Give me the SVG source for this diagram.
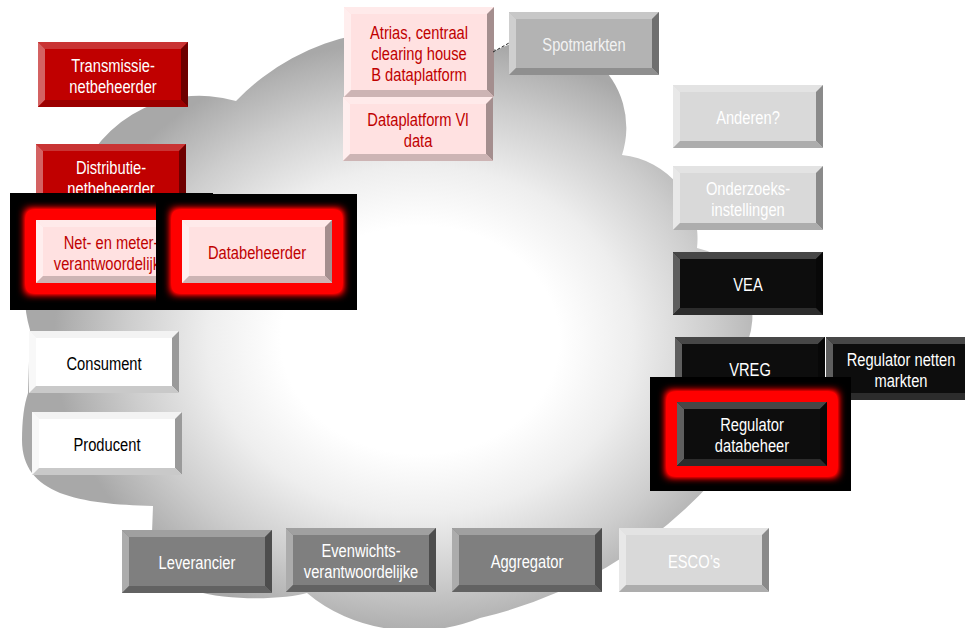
<svg xmlns="http://www.w3.org/2000/svg" width="965" height="628" viewBox="0 0 965 628">
<defs>
<radialGradient id="cg" gradientUnits="userSpaceOnUse" cx="420" cy="340" r="300" gradientTransform="translate(420 340) scale(1.22 1) translate(-420 -340)">
<stop offset="0" stop-color="#FFFFFF"/>
<stop offset="0.38" stop-color="#FFFFFF"/>
<stop offset="0.58" stop-color="#EEEEEE"/>
<stop offset="0.8" stop-color="#CDCDCD"/>
<stop offset="0.95" stop-color="#B2B2B2"/>
<stop offset="1" stop-color="#A8A8A8"/>
</radialGradient>
<filter id="glow" x="-30%" y="-50%" width="160%" height="200%">
<feGaussianBlur stdDeviation="4.5"/>
<feComponentTransfer><feFuncA type="linear" slope="2.2"/></feComponentTransfer>
</filter>
</defs>
<style>
text{font-family:"Liberation Sans",Arial,sans-serif;font-size:17.5px;text-anchor:middle}
.red .f{fill:#C00000}.red .t{fill:#C93434}.red .l{fill:#D46262}.red .r{fill:#6E0000}.red .b{fill:#9C0000}.red text{fill:#FFFFFF}
.pink .f{fill:#FFE1E1}.pink .t{fill:#FFEAEA}.pink .l{fill:#FFEEEE}.pink .r{fill:#A48E8E}.pink .b{fill:#CDB4B4}.pink text{fill:#C00000}
.lg .f{fill:#B3B3B3}.lg .t{fill:#C7C7C7}.lg .l{fill:#CFCFCF}.lg .r{fill:#6F6F6F}.lg .b{fill:#8F8F8F}.lg text{fill:#F2F2F2}
.xl .f{fill:#D9D9D9}.xl .t{fill:#E3E3E3}.xl .l{fill:#E8E8E8}.xl .r{fill:#8A8A8A}.xl .b{fill:#ADADAD}.xl text{fill:#FFFFFF}
.blk .f{fill:#0D0D0D}.blk .t{fill:#474747}.blk .l{fill:#5E5E5E}.blk .r{fill:#080808}.blk .b{fill:#2C2C2C}.blk text{fill:#FFFFFF}
.wht .f{fill:#FFFFFF}.wht .t{fill:#F3F3F3}.wht .l{fill:#F8F8F8}.wht .r{fill:#9A9A9A}.wht .b{fill:#C9C9C9}.wht text{fill:#000000}
.dg .f{fill:#7F7F7F}.dg .t{fill:#A0A0A0}.dg .l{fill:#ACACAC}.dg .r{fill:#4D4D4D}.dg .b{fill:#626262}.dg text{fill:#FFFFFF}
.bb{fill:#000000}
.gl{fill:#FF0000;filter:url(#glow)}
.dash{stroke:#222222;stroke-width:1;stroke-dasharray:3 2;fill:none}
</style>

<g id="cloud">
<path fill="url(#cg)" d="M 30,330 A 120 120 0 0 1 72,200 A 130 130 0 0 1 236,101 A 232 232 0 0 1 497,50 A 88 88 0 0 1 622,155 A 84 84 0 0 1 697,248 A 70 70 0 0 1 725,372 A 110 110 0 0 1 712,482 A 455 455 0 0 1 480,618 A 150 125 0 0 1 307,593 C 280,601 170,606 151,560 L 153,506 C 80,504 22,495 22,440 C 22,420 24,405 28,393 Z"/>
</g>

<g id="transmissie" class="red" transform="translate(38,42)">
<rect class="f" width="150" height="65"/>
<polygon class="t" points="0,0 150,0 143,7 7,7"/><polygon class="l" points="0,0 7,7 7,58 0,65"/><polygon class="r" points="150,0 150,65 143,58 143,7"/><polygon class="b" points="0,65 7,58 143,58 150,65"/>
<text transform="matrix(0.84 0 0 1 75 29.5)">Transmissie-</text>
<text transform="matrix(0.84 0 0 1 75 50.5)">netbeheerder</text>
</g>

<g id="distributie" class="red" transform="translate(36,144)">
<rect class="f" width="150" height="65"/>
<polygon class="t" points="0,0 150,0 143,7 7,7"/><polygon class="l" points="0,0 7,7 7,58 0,65"/><polygon class="r" points="150,0 150,65 143,58 143,7"/><polygon class="b" points="0,65 7,58 143,58 150,65"/>
<text transform="matrix(0.84 0 0 1 75 29.5)">Distributie-</text>
<text transform="matrix(0.84 0 0 1 75 50.5)">netbeheerder</text>
</g>

<g id="netmeter" class="pink">
<rect class="bb" x="10" y="193" width="203" height="117"/>
<rect class="gl" x="26" y="210" width="170" height="83"/>
<g transform="translate(36,220)">
<rect class="f" width="150" height="63"/>
<polygon class="t" points="0,0 150,0 143,7 7,7"/><polygon class="l" points="0,0 7,7 7,56 0,63"/><polygon class="r" points="150,0 150,63 143,56 143,7"/><polygon class="b" points="0,63 7,56 143,56 150,63"/>
<text transform="matrix(0.84 0 0 1 75 28.5)">Net- en meter-</text>
<text transform="matrix(0.84 0 0 1 75 49.5)">verantwoordelijke</text>
</g>
</g>

<g id="databeheerder" class="pink">
<rect class="bb" x="156" y="194" width="201" height="116"/>
<rect class="gl" x="172" y="210" width="170" height="83"/>
<g transform="translate(182,220)">
<rect class="f" width="150" height="63"/>
<polygon class="t" points="0,0 150,0 143,7 7,7"/><polygon class="l" points="0,0 7,7 7,56 0,63"/><polygon class="r" points="150,0 150,63 143,56 143,7"/><polygon class="b" points="0,63 7,56 143,56 150,63"/>
<text transform="matrix(0.84 0 0 1 75 39)">Databeheerder</text>
</g>
</g>

<g id="atrias" class="pink" transform="translate(344,7)">
<rect class="f" width="150" height="90"/>
<polygon class="t" points="0,0 150,0 143,7 7,7"/><polygon class="l" points="0,0 7,7 7,83 0,90"/><polygon class="r" points="150,0 150,90 143,83 143,7"/><polygon class="b" points="0,90 7,83 143,83 150,90"/>
<text transform="matrix(0.84 0 0 1 75 31.5)">Atrias, centraal</text>
<text transform="matrix(0.84 0 0 1 75 52.5)">clearing house</text>
<text transform="matrix(0.84 0 0 1 75 73.5)">B dataplatform</text>
</g>

<g id="dataplatform" class="pink" transform="translate(343,97)">
<rect class="f" width="150" height="64"/>
<polygon class="t" points="0,0 150,0 143,7 7,7"/><polygon class="l" points="0,0 7,7 7,57 0,64"/><polygon class="r" points="150,0 150,64 143,57 143,7"/><polygon class="b" points="0,64 7,57 143,57 150,64"/>
<text transform="matrix(0.84 0 0 1 75 29)">Dataplatform Vl</text>
<text transform="matrix(0.84 0 0 1 75 50)">data</text>
</g>

<g id="spotmarkten" class="lg" transform="translate(509,12)">
<rect class="f" width="150" height="63"/>
<polygon class="t" points="0,0 150,0 143,7 7,7"/><polygon class="l" points="0,0 7,7 7,56 0,63"/><polygon class="r" points="150,0 150,63 143,56 143,7"/><polygon class="b" points="0,63 7,56 143,56 150,63"/>
<text transform="matrix(0.84 0 0 1 75 39)">Spotmarkten</text>
</g>

<g id="connectors">
<line class="dash" x1="493" y1="52" x2="509" y2="43"/>
</g>

<g id="anderen" class="xl" transform="translate(673,85)">
<rect class="f" width="150" height="63"/>
<polygon class="t" points="0,0 150,0 143,7 7,7"/><polygon class="l" points="0,0 7,7 7,56 0,63"/><polygon class="r" points="150,0 150,63 143,56 143,7"/><polygon class="b" points="0,63 7,56 143,56 150,63"/>
<text transform="matrix(0.84 0 0 1 75 39)">Anderen?</text>
</g>

<g id="onderzoek" class="xl" transform="translate(673,166)">
<rect class="f" width="150" height="64"/>
<polygon class="t" points="0,0 150,0 143,7 7,7"/><polygon class="l" points="0,0 7,7 7,57 0,64"/><polygon class="r" points="150,0 150,64 143,57 143,7"/><polygon class="b" points="0,64 7,57 143,57 150,64"/>
<text transform="matrix(0.84 0 0 1 75 29)">Onderzoeks-</text>
<text transform="matrix(0.84 0 0 1 75 50)">instellingen</text>
</g>

<g id="vea" class="blk" transform="translate(673,252)">
<rect class="f" width="150" height="63"/>
<polygon class="t" points="0,0 150,0 143,7 7,7"/><polygon class="l" points="0,0 7,7 7,56 0,63"/><polygon class="r" points="150,0 150,63 143,56 143,7"/><polygon class="b" points="0,63 7,56 143,56 150,63"/>
<text transform="matrix(0.84 0 0 1 75 39)">VEA</text>
</g>

<g id="vreg" class="blk" transform="translate(675,337)">
<rect class="f" width="150" height="63"/>
<polygon class="t" points="0,0 150,0 143,7 7,7"/><polygon class="l" points="0,0 7,7 7,56 0,63"/><polygon class="r" points="150,0 150,63 143,56 143,7"/><polygon class="b" points="0,63 7,56 143,56 150,63"/>
<text transform="matrix(0.84 0 0 1 75 39)">VREG</text>
</g>

<g id="regnetten" class="blk" transform="translate(826,337)">
<rect class="f" width="150" height="63"/>
<polygon class="t" points="0,0 150,0 143,7 7,7"/><polygon class="l" points="0,0 7,7 7,56 0,63"/><polygon class="r" points="150,0 150,63 143,56 143,7"/><polygon class="b" points="0,63 7,56 143,56 150,63"/>
<text transform="matrix(0.84 0 0 1 75 28.5)">Regulator netten</text>
<text transform="matrix(0.84 0 0 1 75 49.5)">markten</text>
</g>

<g id="regdata" class="blk">
<rect class="bb" x="650" y="377" width="201" height="114"/>
<rect class="gl" x="667" y="392" width="170" height="84"/>
<g transform="translate(677,402)">
<rect class="f" width="150" height="64"/>
<polygon class="t" points="0,0 150,0 143,7 7,7"/><polygon class="l" points="0,0 7,7 7,57 0,64"/><polygon class="r" points="150,0 150,64 143,57 143,7"/><polygon class="b" points="0,64 7,57 143,57 150,64"/>
<text transform="matrix(0.84 0 0 1 75 29)">Regulator</text>
<text transform="matrix(0.84 0 0 1 75 50)">databeheer</text>
</g>
</g>

<g id="consument" class="wht" transform="translate(29,331)">
<rect class="f" width="150" height="62"/>
<polygon class="t" points="0,0 150,0 143,7 7,7"/><polygon class="l" points="0,0 7,7 7,55 0,62"/><polygon class="r" points="150,0 150,62 143,55 143,7"/><polygon class="b" points="0,62 7,55 143,55 150,62"/>
<text transform="matrix(0.84 0 0 1 75 38.5)">Consument</text>
</g>

<g id="producent" class="wht" transform="translate(32,412)">
<rect class="f" width="150" height="63"/>
<polygon class="t" points="0,0 150,0 143,7 7,7"/><polygon class="l" points="0,0 7,7 7,56 0,63"/><polygon class="r" points="150,0 150,63 143,56 143,7"/><polygon class="b" points="0,63 7,56 143,56 150,63"/>
<text transform="matrix(0.84 0 0 1 75 39)">Producent</text>
</g>

<g id="leverancier" class="dg" transform="translate(122,530)">
<rect class="f" width="150" height="63"/>
<polygon class="t" points="0,0 150,0 143,7 7,7"/><polygon class="l" points="0,0 7,7 7,56 0,63"/><polygon class="r" points="150,0 150,63 143,56 143,7"/><polygon class="b" points="0,63 7,56 143,56 150,63"/>
<text transform="matrix(0.84 0 0 1 75 39)">Leverancier</text>
</g>

<g id="evenwicht" class="dg" transform="translate(286,528)">
<rect class="f" width="150" height="64"/>
<polygon class="t" points="0,0 150,0 143,7 7,7"/><polygon class="l" points="0,0 7,7 7,57 0,64"/><polygon class="r" points="150,0 150,64 143,57 143,7"/><polygon class="b" points="0,64 7,57 143,57 150,64"/>
<text transform="matrix(0.84 0 0 1 75 29)">Evenwichts-</text>
<text transform="matrix(0.84 0 0 1 75 50)">verantwoordelijke</text>
</g>

<g id="aggregator" class="dg" transform="translate(452,528)">
<rect class="f" width="150" height="64"/>
<polygon class="t" points="0,0 150,0 143,7 7,7"/><polygon class="l" points="0,0 7,7 7,57 0,64"/><polygon class="r" points="150,0 150,64 143,57 143,7"/><polygon class="b" points="0,64 7,57 143,57 150,64"/>
<text transform="matrix(0.84 0 0 1 75 39.5)">Aggregator</text>
</g>

<g id="escos" class="xl" transform="translate(619,528)">
<rect class="f" width="150" height="64"/>
<polygon class="t" points="0,0 150,0 143,7 7,7"/><polygon class="l" points="0,0 7,7 7,57 0,64"/><polygon class="r" points="150,0 150,64 143,57 143,7"/><polygon class="b" points="0,64 7,57 143,57 150,64"/>
<text transform="matrix(0.84 0 0 1 75 39.5)">ESCO’s</text>
</g>
</svg>
